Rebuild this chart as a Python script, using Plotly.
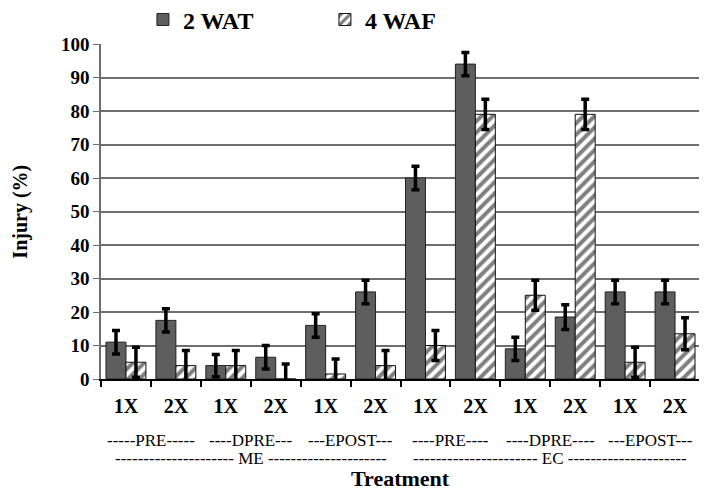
import plotly.graph_objects as go

# Data
categories = ["ME PRE 1X", "ME PRE 2X", "ME DPRE 1X", "ME DPRE 2X", "ME EPOST 1X", "ME EPOST 2X",
              "EC PRE 1X", "EC PRE 2X", "EC DPRE 1X", "EC DPRE 2X", "EC EPOST 1X", "EC EPOST 2X"]
tick_labels = ["1X", "2X"] * 6
wat_2 = [11, 17.5, 4, 6.5, 16, 26, 60, 94, 9, 18.5, 26, 26]
wat_2_err = [3.5, 3.5, 3.3, 3.5, 3.5, 3.5, 3.5, 3.5, 3.5, 3.7, 3.5, 3.5]
waf_4 = [5, 4, 4, 0, 1.5, 4, 10, 79, 25, 79, 5, 13.5]
waf_4_err = [4.5, 4.5, 4.5, 4.5, 4.5, 4.5, 4.5, 4.5, 4.5, 4.5, 4.5, 4.8]
timing_labels = ["-----PRE-----", "----DPRE---", "---EPOST---",
                 "----PRE----", "----DPRE----", "---EPOST---"]
product_labels = ["-" * 21 + " ME " + "-" * 21, "-" * 22 + " EC " + "-" * 21]

SERIF = "Liberation Serif"

fig = go.Figure()
fig.add_trace(go.Bar(
    x=categories, y=wat_2, name="2 WAT",
    marker=dict(color="#5e5e5e", line=dict(color="#222222", width=1)),
    error_y=dict(type="data", array=wat_2_err, color="black", thickness=3.5, width=4),
))
fig.add_trace(go.Bar(
    x=categories, y=waf_4, name="4 WAF",
    marker=dict(color="white", line=dict(color="#111111", width=1),
                pattern=dict(shape="/", fgcolor="black", bgcolor="white", size=8, solidity=0.5)),
    error_y=dict(type="data", array=waf_4_err, color="black", thickness=3.5, width=4),
))

# group labels under the tick labels
for i, txt in enumerate(timing_labels):
    fig.add_annotation(x=(2 * i + 1) / 12, y=-0.185, xref="paper", yref="paper",
                       text=txt, showarrow=False, xanchor="center", yanchor="middle",
                       font=dict(family=SERIF, size=17, color="black"))
for i, txt in enumerate(product_labels):
    fig.add_annotation(x=(2 * i + 1) / 4, y=-0.236, xref="paper", yref="paper",
                       text=txt, showarrow=False, xanchor="center", yanchor="middle",
                       font=dict(family=SERIF, size=17, color="black"))
fig.add_annotation(x=0.5, y=-0.296, xref="paper", yref="paper", text="<b>Treatment</b>",
                   showarrow=False, xanchor="center", yanchor="middle",
                   font=dict(family=SERIF, size=22, color="black"))
fig.add_annotation(x=-0.135, y=0.5, xref="paper", yref="paper", text="<b>Injury (%)</b>",
                   showarrow=False, textangle=-90, xanchor="center", yanchor="middle",
                   font=dict(family=SERIF, size=20, color="black"))

# the page adds an 8px body margin, so the figure is sized to the visible area
fig.update_layout(
    width=699, height=483,
    margin=dict(l=93, r=7, t=36, b=112, autoexpand=False),
    paper_bgcolor="white", plot_bgcolor="white",
    barmode="group", bargap=0.2, bargroupgap=0,
    font=dict(family=SERIF, color="black"),
    legend=dict(orientation="h", x=0.07, xanchor="left",
                y=1.072, yanchor="middle",
                entrywidth=137, itemwidth=30,
                font=dict(family=SERIF, size=24, color="black", weight="bold")),
    xaxis=dict(type="category", tickmode="array", tickvals=categories, ticktext=tick_labels,
               tickson="boundaries", ticks="outside", ticklen=6, tickwidth=2, tickcolor="black",
               ticklabelstandoff=8, automargin=False,
               showline=True, linecolor="black", linewidth=2, showgrid=False,
               tickfont=dict(family=SERIF, size=20, color="black", weight="bold")),
    yaxis=dict(range=[0, 100], dtick=10, showgrid=True, gridcolor="#6e6e6e", gridwidth=1.5,
               ticks="outside", ticklen=6, tickcolor="#6e6e6e", showline=True, linecolor="#6e6e6e",
               linewidth=1.5, mirror=True, zeroline=False, automargin=False,
               tickfont=dict(family=SERIF, size=19, color="black", weight="bold")),
)

fig.write_html("out.html")
